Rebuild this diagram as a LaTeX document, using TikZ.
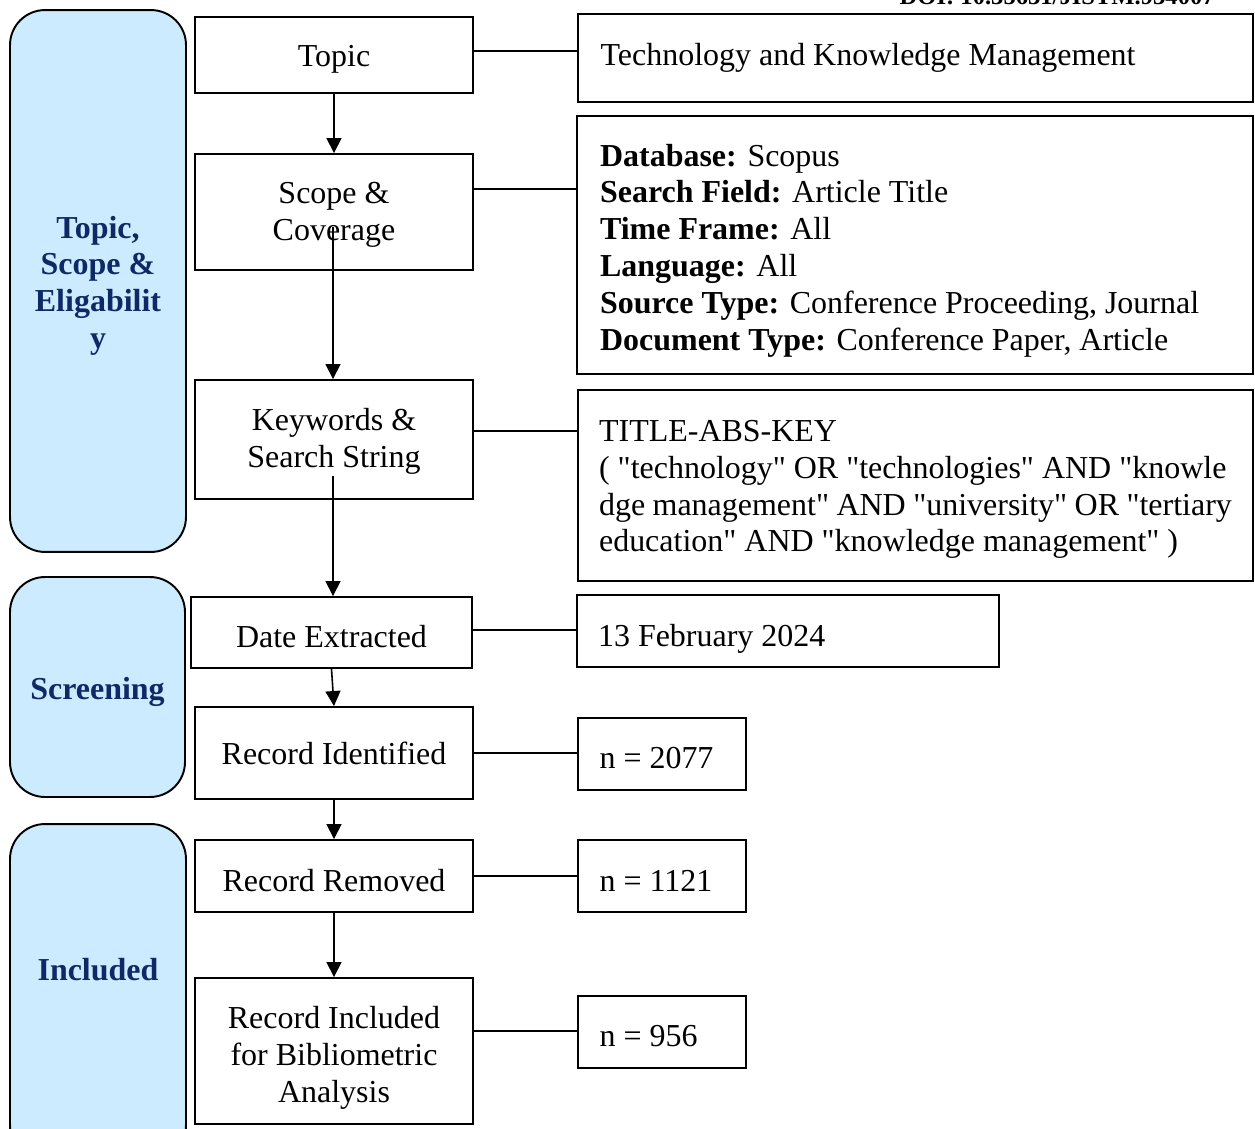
\documentclass[tikz,border=0pt]{standalone}
\usepackage{fontspec}
\setmainfont{Liberation Serif}[Ligatures=TeXOff]
\usepackage{tikz}
\usetikzlibrary{shapes,arrows.meta,positioning}
\definecolor{phasefill}{RGB}{204,235,255}
\definecolor{phasetext}{RGB}{14,42,102}
\newcommand{\dropline}[1]{\rule{0pt}{#1}}
\tikzstyle{phase} = [draw, line width=1.1pt, rounded corners=0.7cm, fill=phasefill, text=phasetext, font=\fontsize{18.2}{21}\selectfont\bfseries, align=flush center, minimum width=3.52cm]
\tikzstyle{phasetitle} = [text=phasetext, font=\fontsize{18.2}{21}\selectfont\bfseries]
\tikzstyle{stepbox} = [draw, line width=1.1pt, align=flush center, minimum width=5.56cm, inner sep=2pt]
\tikzstyle{info} = [draw, line width=1.1pt, align=flush left, inner xsep=0.42cm, minimum height=1.44cm]
\tikzstyle{line} = [draw, line width=0.9pt]
\tikzstyle{arrow} = [draw, line width=0.9pt, -{Triangle[width=0.3cm,length=0.3cm]}]

\begin{document}
\begin{tikzpicture}[x=0.02cm, y=-0.02cm, font=\fontsize{18.2}{21}\selectfont]
			\useasboundingbox (0,0) rectangle (1255,1129);
			% page header, cut off at the top
			\node [anchor=base east, font=\fontsize{14}{16}\selectfont\bfseries, inner sep=0pt] (doi) at (1215,5) {DOI: 10.35631/JISTM.934007};

			% phases
			\node [phase, minimum height=10.84cm] (ph1) at (98,281) {\dropline{18pt}Topic,\\Scope \&\\Eligabilit\\y};
			\node [phase, minimum height=4.4cm, minimum width=3.5cm] (ph2) at (97.5,687) {\dropline{18pt}Screening};
			\node [phase, minimum height=6.72cm] (ph3) at (98,992) {};
			\node [phasetitle] (ph3title) at (98,970) {Included};

			% steps
			\node [stepbox, minimum height=1.52cm] (topic) at (334,55) {\dropline{17pt}Topic};
			\node [stepbox, minimum height=2.32cm] (scope) at (334,212) {\dropline{15.7pt}Scope \&\\Coverage};
			\node [stepbox, minimum height=2.38cm] (keys) at (334,439.5) {\dropline{14.7pt}Keywords \&\\Search String};
			\node [stepbox, minimum height=1.42cm, minimum width=5.62cm] (date) at (331.5,632.5) {\dropline{17pt}Date Extracted};
			\node [stepbox, minimum height=1.84cm] (recid) at (334,753) {Record Identified};
			\node [stepbox, minimum height=1.44cm] (recrem) at (334,876) {\dropline{18.1pt}Record Removed};
			\node [stepbox, minimum height=2.92cm] (recinc) at (334,1051) {\dropline{20.4pt}Record Included\\for Bibliometric\\Analysis};

			% details
			\node [info, minimum width=13.5cm, minimum height=1.76cm, text width=12.6cm] (r1) at (915.5,58) {Technology and Knowledge Management};
			\node [info, minimum width=13.52cm, minimum height=5.16cm, text width=12.6cm] (r2) at (915,245) {\dropline{19.1pt}\textbf{Database:} Scopus\\\textbf{Search Field:} Article Title\\\textbf{Time Frame:} All\\\textbf{Language:} All\\\textbf{Source Type:} Conference Proceeding, Journal\\\textbf{Document Type:} Conference Paper, Article};
			\node [info, minimum width=13.5cm, minimum height=3.82cm, text width=12.66cm, align=justify] (r3) at (915.5,485.5) {\dropline{16.6pt}TITLE-ABS-KEY\\( "technology" OR "technologies" AND "knowle\\dge management" AND "university" OR "tertiary\linebreak education" AND "knowledge management" )};
			\node [info, minimum width=8.44cm, text width=7.6cm] (r4) at (788,631) {\dropline{21.4pt}13 February 2024};
			\node [info, minimum width=3.36cm, text width=2.5cm] (r5) at (662,754) {\dropline{16.8pt}n = 2077};
			\node [info, minimum width=3.36cm, text width=2.5cm] (r6) at (662,876) {\dropline{18pt}n = 1121};
			\node [info, minimum width=3.36cm, text width=2.5cm] (r7) at (662,1032) {\dropline{16.8pt}n = 956};

			\coordinate (scopeout) at (333,227);
			\coordinate (keysout) at (333,476);

			\path [arrow] (topic.south) -- (scope.north);
			\path [arrow] (scopeout) -- (scopeout |- keys.north);
			\path [arrow] (keysout) -- (keysout |- date.north);
			\path [arrow] (date.south) -- (recid.north);
			\path [arrow] (recid.south) -- (recrem.north);
			\path [arrow] (recrem.south) -- (recinc.north);

			\path [line] ([yshift=0.08cm]topic.east) -- ([yshift=0.08cm]topic.east -| r1.west);
			\path [line] ([yshift=0.46cm]scope.east) -- ([yshift=0.46cm]scope.east -| r2.west);
			\path [line] ([yshift=0.17cm]keys.east) -- ([yshift=0.17cm]keys.east -| r3.west);
			\path [line] ([yshift=0.05cm]date.east) -- ([yshift=0.05cm]date.east -| r4.west);
			\path [line] (recid.east) -- (recid.east -| r5.west);
			\path [line] (recrem.east) -- (recrem.east -| r6.west);
			\path [line] ([yshift=0.4cm]recinc.east) -- ([yshift=0.4cm]recinc.east -| r7.west);
		\end{tikzpicture}
\end{document}
